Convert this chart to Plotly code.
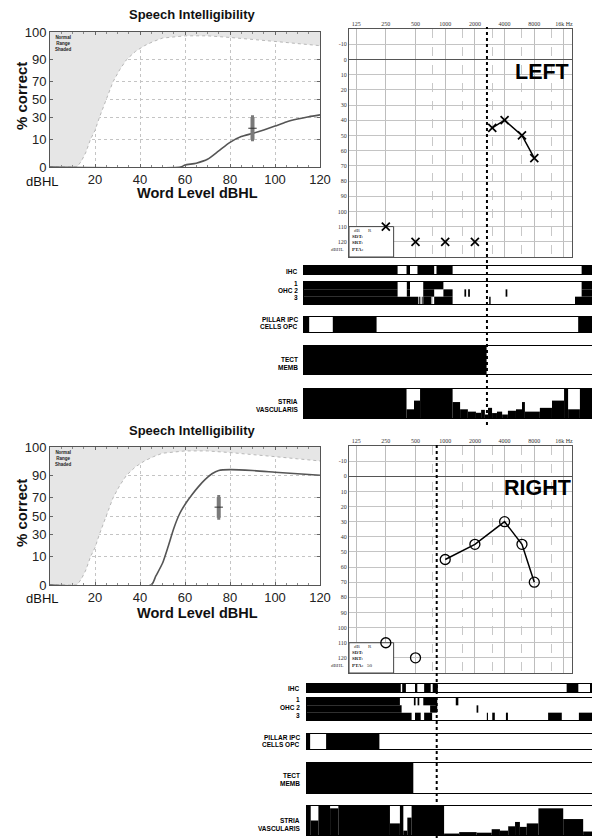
import numpy as np
import plotly.graph_objects as go

W, H = 592, 838
FONT = "Arial, Liberation Sans, Helvetica, sans-serif"
SERIF = "Liberation Serif, Times New Roman, serif"

# ---------------------------------------------------------------- data
# Speech intelligibility (word level dBHL vs % correct)
speech_ticks = [0, 10, 30, 50, 70, 90, 100]
level_ticks = [20, 40, 60, 80, 100, 120]

normal_level = [0, 12, 14, 16, 18, 20, 22, 25, 28, 31, 34, 38, 42, 46, 50, 60, 70, 80, 90, 100, 110, 120]
normal_pct = [0, 0, 0.5, 3, 10, 17, 30, 50, 70, 82, 90, 95, 97.5, 98.8, 99.5, 99.8, 99.8, 99.6, 99.3, 98.8, 98.2, 97.5]
normal_top = 100

left_level = [0, 58, 60, 65, 70, 75, 80, 85, 90, 95, 100, 105, 110, 115, 120]
left_pct = [0, 0, 0.05, 0.2, 0.8, 3.5, 8, 12, 14.5, 17.5, 21, 25, 28, 30.5, 32.5]
left_score_level = 90
left_score = [10, 19, 30]  # low, middle, high

right_level = [0, 45, 47, 50, 52.5, 55, 57.5, 60, 63, 66, 69, 72, 75, 80, 90, 100, 110, 120]
right_pct = [0, 0, 1, 6, 18, 36, 52, 63, 73, 81, 87, 91, 93, 93.5, 93, 92, 91, 90]
right_score_level = 75
right_score = [48, 60, 71]

# Audiograms
freq_ticks = [125, 250, 500, 1000, 2000, 4000, 8000, 16000]
freq_tick_text = ["125", "250", "500", "1000", "2000", "4000", "8000", "16k Hz"]
half_octaves = [750, 1500, 3000, 6000, 12000]
db_ticks = list(range(-10, 130, 10))

left_freq = [3000, 4000, 6000, 8000]
left_db = [45, 40, 50, 65]
left_nr_freq = [250, 500, 1000, 2000]
left_nr_db = [110, 120, 120, 120]
left_dead_edge_hz = 2650

right_freq = [1000, 2000, 4000, 6000, 8000]
right_db = [55, 45, 30, 45, 70]
right_nr_freq = [250, 500]
right_nr_db = [110, 120]
right_dead_edge_hz = 820
right_pta = 50

# Cochleograms: black (lost) segments along the cochlea, % of length
top_ihc = [(0, 32.5), (35.6, 36.8), (39.4, 45.2), (46.0, 51.6), (96.4, 100)]
top_ohc1 = [(0, 32.5), (35.7, 36.8), (41.4, 48.4), (96.4, 100)]
top_ohc2 = [(0, 32.5), (35.7, 36.8), (41.4, 45.2), (48.4, 51.6), (55.7, 56.3), (57.0, 57.6), (70.0, 70.6), (96.4, 100)]
top_ohc3 = [(0, 39.7), (40.0, 40.4), (40.9, 41.2), (41.4, 44.1), (44.3, 44.5), (45.2, 51.6), (64.3, 64.8), (94.1, 100)]
top_pillar = [(0, 1.8), (10.0, 25.2), (95.2, 100)]
top_tect = [(0, 63.4)]
top_stria = [(0, 35.6, 1.0), (35.6, 38.2, 0.3), (38.2, 40.3, 0.6), (40.3, 51.6, 1.0), (51.6, 54.2, 0.55),
             (54.2, 56.9, 0.3), (56.9, 59.7, 0.22), (59.7, 61.5, 0.18), (61.5, 62.8, 0.28), (62.8, 63.9, 0.12),
             (63.9, 65.3, 0.35), (65.3, 67.0, 0.17), (67.0, 68.8, 0.22), (68.8, 70.8, 0.12), (70.8, 73.6, 0.25),
             (73.6, 75.7, 0.3), (75.7, 76.7, 0.55), (76.7, 81.9, 0.22), (81.9, 86.1, 0.35), (86.1, 90.3, 0.6),
             (90.3, 91.7, 1.0), (91.7, 95.8, 0.3), (95.8, 100, 1.0)]

bot_ihc = [(0, 32.9), (33.4, 34.7), (37.9, 38.7), (41.1, 43.4), (44.1, 45.9), (91.1, 95.2), (99.3, 100)]
bot_ohc1 = [(0, 32.6), (37.5, 38.1), (38.8, 39.4), (40.8, 45.7), (52.2, 53.1)]
bot_ohc2 = [(0, 33.2), (43.2, 45.7), (59.5, 60.1)]
bot_ohc3 = [(0, 36.7), (37.9, 39.9), (41.1, 43.9), (63.1, 63.5), (65.0, 65.9), (69.8, 70.5), (84.6, 89.4), (95.4, 100)]
bot_pillar = [(0, 1.1), (6.7, 25.4)]
bot_tect = [(0, 37.3)]
bot_stria = [(0, 1.3, 1.0), (1.3, 4.0, 0.5), (4.0, 8.1, 1.0), (8.1, 11.0, 0.92), (11.0, 29.1, 1.0),
             (29.1, 32.6, 0.4), (32.6, 33.8, 1.0), (33.8, 35.2, 0.15), (35.2, 36.7, 0.6), (36.7, 48.1, 1.0),
             (48.1, 53.4, 0.05), (53.4, 59.5, 0.1), (59.5, 64.8, 0.08), (64.8, 67.7, 0.2), (67.7, 70.6, 0.15),
             (70.6, 73.0, 0.3), (73.0, 74.7, 0.45), (74.7, 77.1, 0.28), (77.1, 81.2, 0.4), (81.2, 89.9, 0.92),
             (89.9, 96.9, 0.55), (96.9, 100, 0.12)]


# ---------------------------------------------------------------- helpers
def px_x(p):
    return p / W


def px_y(p):
    return 1 - p / H


def asin_pct(p):
    return np.degrees(np.arcsin(np.sqrt(np.clip(np.asarray(p, float) / 100.0, 0, 1))))


def octv(f):
    return np.log2(np.asarray(f, float) / 125.0)


fig = go.Figure()
layout = {}
annotations = []
shapes = []


def ann(text, x, y, size, bold=False, xanchor="center", yanchor="middle", family=FONT,
        color="#111", angle=0, xref="paper", yref="paper"):
    annotations.append(dict(text=f"<b>{text}</b>" if bold else text, x=x, y=y, xref=xref, yref=yref,
                            showarrow=False, xanchor=xanchor, yanchor=yanchor, textangle=angle,
                            font=dict(size=size, family=family, color=color)))


# ---------------------------------------------------------------- speech charts
def speech_panel(n, ytop, ybot, p_level, p_pct, s_level, s_score):
    xs = "x" if n == 1 else f"x{n}"
    ys = "y" if n == 1 else f"y{n}"
    # normal range shading
    fig.add_trace(go.Scatter(
        x=list(normal_level) + [normal_level[-1], normal_level[0]],
        y=list(asin_pct(normal_pct)) + list(asin_pct([normal_top, normal_top])),
        fill="toself", mode="none", fillcolor="#e6e6e6",
        xaxis=xs, yaxis=ys, hoverinfo="skip"))
    fig.add_trace(go.Scatter(x=normal_level, y=asin_pct(normal_pct), mode="lines",
                             line=dict(color="#b8b8b8", width=1, dash="dot"), xaxis=xs, yaxis=ys))
    # patient curve
    fig.add_trace(go.Scatter(x=p_level, y=asin_pct(p_pct), mode="lines",
                             line=dict(color="#555555", width=1.6, shape="spline", smoothing=0.6),
                             xaxis=xs, yaxis=ys))
    lo, mid, hi = asin_pct(s_score)
    fig.add_trace(go.Scatter(x=[s_level], y=[mid], mode="markers",
                             marker=dict(symbol="line-ew-open", size=6, color="#333",
                                         line=dict(color="#333", width=1)),
                             error_y=dict(type="data", symmetric=False, array=[hi - mid], arrayminus=[mid - lo],
                                          color="#7a7a7a", thickness=4, width=1.5),
                             xaxis=xs, yaxis=ys))
    common = dict(showgrid=True, gridcolor="#c4c4c4", griddash="dot", gridwidth=1,
                  showline=True, linecolor="#555", linewidth=1, mirror="allticks",
                  ticks="inside", ticklen=3, tickcolor="#666", zeroline=False, automargin=False,
                  tickfont=dict(size=13, family=FONT, color="#222"))
    layout["xaxis" if n == 1 else f"xaxis{n}"] = dict(
        domain=[px_x(50), px_x(320)], range=[0, 120], tickvals=level_ticks,
        ticktext=[str(v) for v in level_ticks], anchor=ys,
        minor=dict(tickmode="linear", tick0=0, dtick=5, ticks="inside", ticklen=2, tickcolor="#888"), **common)
    layout["yaxis" if n == 1 else f"yaxis{n}"] = dict(
        domain=[px_y(ybot), px_y(ytop)], range=[0, 90], tickvals=list(asin_pct(speech_ticks)),
        ticktext=[str(v) for v in speech_ticks], anchor=xs, **common)


speech_panel(1, 32, 167, left_level, left_pct, left_score_level, left_score)
speech_panel(2, 447, 585, right_level, right_pct, right_score_level, right_score)

for yt, yx, yw, yc in [(15, 181, 193, 96), (430, 598, 613, 513)]:
    ann("Speech Intelligibility", px_x(192), px_y(yt), 13, bold=True)
    ann("dBHL", px_x(42), px_y(yx), 13)
    ann("Word Level dBHL", px_x(197), px_y(yw), 14.5, bold=True)
    ann("% correct", px_x(21), px_y(yc), 15, bold=True, angle=-90)
for yn in [43, 458]:
    ann("Normal<br>Range<br>Shaded", px_x(53), px_y(yn), 4.5, bold=True, xanchor="left", color="#222")

# ---------------------------------------------------------------- audiograms
OCT_RANGE = [-0.24, 7.27]


def audiogram(n, ytop, ybot, freq, db, nr_freq, nr_db, symbol, size, lw, label, label_xy, pta):
    xs, ys = f"x{n}", f"y{n}"
    fig.add_trace(go.Scatter(x=octv(freq), y=db, mode="lines+markers",
                             line=dict(color="black", width=1.5),
                             marker=dict(symbol=symbol, size=size, color="black",
                                         line=dict(color="black", width=lw)),
                             xaxis=xs, yaxis=ys))
    fig.add_trace(go.Scatter(x=octv(nr_freq), y=nr_db, mode="markers",
                             marker=dict(symbol=symbol, size=size, color="black",
                                         line=dict(color="black", width=lw)),
                             xaxis=xs, yaxis=ys))
    layout[f"xaxis{n}"] = dict(
        domain=[px_x(349), px_x(572)], range=OCT_RANGE, side="top",
        tickvals=list(octv(freq_ticks)), ticktext=freq_tick_text, ticks="",
        tickfont=dict(size=6, family=SERIF, color="#333"),
        showgrid=True, gridcolor="#bdbdbd", gridwidth=1, automargin=False,
        minor=dict(tickmode="array", tickvals=list(octv(half_octaves)), showgrid=True,
                   gridcolor="#c8c8c8", griddash="dash", ticks=""),
        showline=True, linecolor="#555", linewidth=1, mirror=True, zeroline=False, anchor=ys)
    layout[f"yaxis{n}"] = dict(
        domain=[px_y(ybot), px_y(ytop)], range=[130, -20], tickvals=db_ticks,
        ticktext=[str(v) for v in db_ticks], ticks="", automargin=False,
        tickfont=dict(size=6, family=SERIF, color="#333"),
        showgrid=True, gridcolor="#c4c4c4", gridwidth=1,
        zeroline=True, zerolinecolor="#555", zerolinewidth=1.5,
        showline=True, linecolor="#555", linewidth=1, mirror=True, anchor=xs)
    # info box
    shapes.append(dict(type="rect", xref=xs, yref=ys, x0=OCT_RANGE[0], x1=float(octv(300)),
                       y0=110, y1=130, fillcolor="white", line=dict(color="#444", width=1),
                       layer="between"))
    bpx = ybot  # bottom pixel of plot
    ann("dB", px_x(357), px_y(bpx - 27), 5, family=SERIF, color="#333")
    ann("R", px_x(370), px_y(bpx - 27), 5, family=SERIF, color="#333")
    ann("SDT:", px_x(350), px_y(bpx - 21), 5, bold=True, xanchor="left", family=SERIF, color="#222")
    ann("SRT:", px_x(350), px_y(bpx - 15), 5, bold=True, xanchor="left", family=SERIF, color="#222")
    ann("<b>PTA:</b>" + (f"&nbsp;&nbsp;&nbsp;{pta}" if pta is not None else ""), px_x(350), px_y(bpx - 8), 5,
        xanchor="left", family=SERIF, color="#222")
    ann("dBHL", px_x(346), px_y(bpx - 8), 5, xanchor="right", family=SERIF, color="#333")
    ann(label, px_x(label_xy[0]), px_y(label_xy[1]), 21.5, bold=True, color="black")


audiogram(3, 29, 257, left_freq, left_db, left_nr_freq, left_nr_db, "x-thin", 8, 1.7, "LEFT", (542, 72), None)
audiogram(4, 446, 673, right_freq, right_db, right_nr_freq, right_nr_db, "circle-open", 10, 1.3, "RIGHT",
          (537, 488), right_pta)

# dead-region boundaries
shapes.append(dict(type="line", xref="x3", yref="paper", x0=float(octv(left_dead_edge_hz)),
                   x1=float(octv(left_dead_edge_hz)), y0=px_y(425), y1=px_y(27),
                   line=dict(color="black", width=2, dash="dot"), layer="above"))
shapes.append(dict(type="line", xref="x4", yref="paper", x0=float(octv(right_dead_edge_hz)),
                   x1=float(octv(right_dead_edge_hz)), y0=0, y1=px_y(442),
                   line=dict(color="black", width=2, dash="dot"), layer="above"))

# ---------------------------------------------------------------- cochleograms
rows_top = [(266, 274), (282, 304), (317, 332), (346, 374), (389, 418)]
rows_bot = [(684, 692), (698, 720), (734, 749), (763, 793), (806, 835)]


def add_bars(n, segs, base, height):
    fig.add_trace(go.Bar(x=[(a + b) / 2 for a, b in segs], width=[b - a for a, b in segs],
                         y=[height] * len(segs), base=[base] * len(segs),
                         marker=dict(color="black", line=dict(width=0)),
                         xaxis=f"x{n}", yaxis=f"y{n}", hoverinfo="skip"))


def cochleogram(n0, rows, x_left, ihc, ohc, pillar, tect, stria):
    nsub = [1, 3, 2, 1, 1]
    for k, (r, ns) in enumerate(zip(rows, nsub)):
        n = n0 + k
        layout[f"xaxis{n}"] = dict(domain=[px_x(x_left), 1], range=[0, 100], showgrid=False, zeroline=False,
                                   showticklabels=False, ticks="", showline=True, linecolor="black",
                                   linewidth=1, mirror=True, anchor=f"y{n}", automargin=False)
        layout[f"yaxis{n}"] = dict(domain=[px_y(r[1]), px_y(r[0])], range=[0, ns], showgrid=False,
                                   zeroline=False, showticklabels=False, ticks="", showline=True,
                                   linecolor="black", linewidth=1, mirror=True, anchor=f"x{n}",
                                   automargin=False)
    add_bars(n0, ihc, 0, 1)
    for i, segs in enumerate(ohc):
        add_bars(n0 + 1, segs, 2 - i, 1)
    add_bars(n0 + 2, pillar, 0, 2)
    add_bars(n0 + 3, tect, 0, 1)
    fig.add_trace(go.Bar(x=[(a + b) / 2 for a, b, f in stria], width=[b - a for a, b, f in stria],
                         y=[f for a, b, f in stria], base=0,
                         marker=dict(color="black", line=dict(width=0)),
                         xaxis=f"x{n0 + 4}", yaxis=f"y{n0 + 4}", hoverinfo="skip"))


cochleogram(5, rows_top, 304, top_ihc, [top_ohc1, top_ohc2, top_ohc3], top_pillar, top_tect, top_stria)
cochleogram(10, rows_bot, 307, bot_ihc, [bot_ohc1, bot_ohc2, bot_ohc3], bot_pillar, bot_tect, bot_stria)

labels_top = [("IHC", 271), ("1", 283.5), ("OHC 2", 291), ("3", 298), ("PILLAR IPC", 319.5),
              ("CELLS OPC", 326.5), ("TECT", 359), ("MEMB", 367), ("STRIA", 401), ("VASCULARIS", 409)]
labels_bot = [("IHC", 688), ("1", 699.5), ("OHC 2", 707.5), ("3", 715), ("PILLAR IPC", 737),
              ("CELLS OPC", 744.5), ("TECT", 775), ("MEMB", 783), ("STRIA", 820), ("VASCULARIS", 828)]
for labels, xr in [(labels_top, 300), (labels_bot, 302)]:
    for t, y in labels:
        ann(t, px_x(xr), px_y(y), 6.5, bold=True, xanchor="right", color="black")

layout.update(dict(width=W, height=H, autosize=False, margin=dict(l=0, r=0, t=0, b=0, autoexpand=False),
                   paper_bgcolor="white", plot_bgcolor="white", showlegend=False,
                   barmode="overlay", annotations=annotations, shapes=shapes,
                   font=dict(family=FONT)))
fig.update_layout(**layout)
fig.write_html("out.html", config={"displayModeBar": False, "staticPlot": True},
               post_script="document.body.style.margin='0';document.body.style.padding='0';"
                           "document.documentElement.style.overflow='hidden';")
